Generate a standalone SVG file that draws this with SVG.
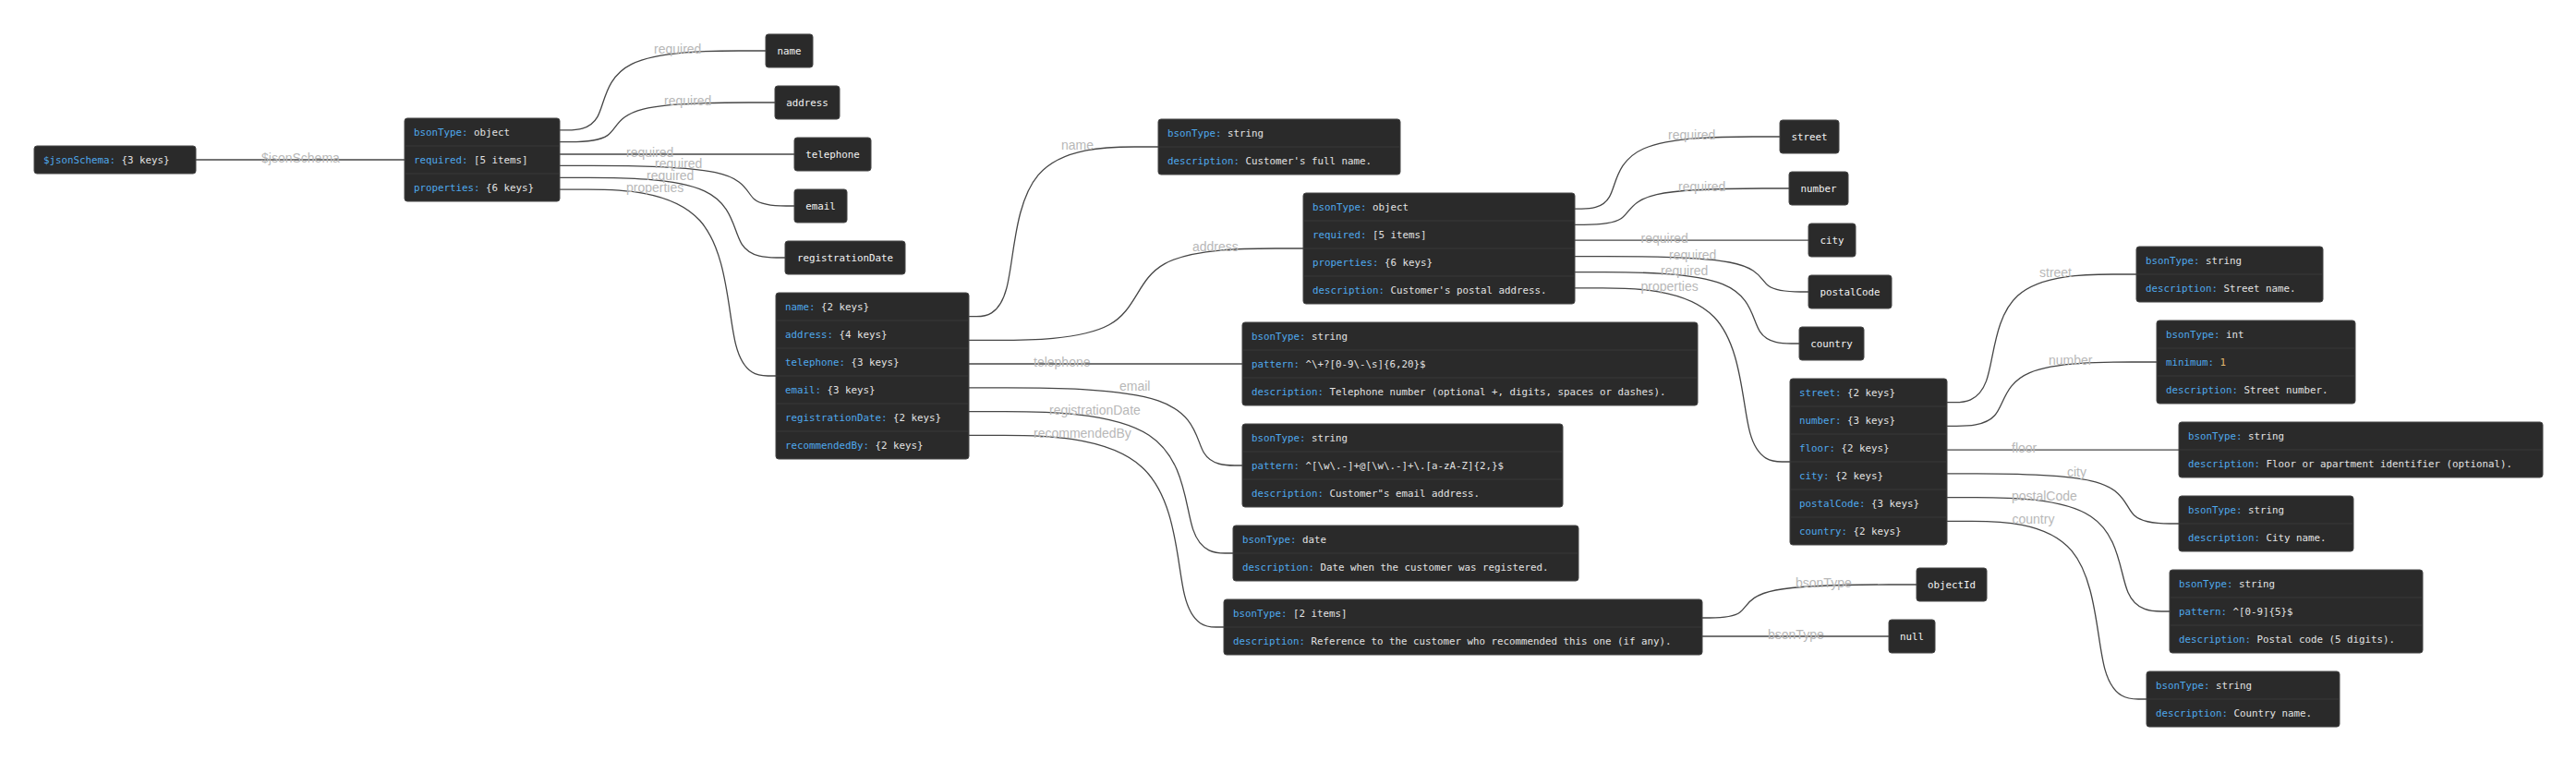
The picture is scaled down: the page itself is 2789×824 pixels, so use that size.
<svg xmlns="http://www.w3.org/2000/svg" width="2789" height="824" viewBox="0 0 2789 824">
<style>
.bg{fill:#ffffff}
.n rect{fill:#2a2a2a;stroke:#474747;stroke-width:1}
.n line{stroke:#383838;stroke-width:1}
.n text{font-family:"DejaVu Sans Mono","Liberation Mono",monospace;font-size:10.8px;fill:#e2e2e2}
.n text.c{text-anchor:middle;fill:#f2f2f2}
.k{fill:#4ea8ec}
.num{fill:#e3b96f}
.e path{fill:none;stroke:#464646;stroke-width:1.3}
.lb text{font-family:"Liberation Sans",Arial,sans-serif;font-size:14px;fill:#b8b8b8}
</style>
<rect class="bg" x="0" y="0" width="2789" height="824"/>

<g id="connectors" class="e">
<path d="M212,173 L438,173"/>
<path d="M606,140.9 L614.2,140.9 C622.3,140.9 638.7,140.9 646.8,126.6 C655,112.3 655,83.6 684,69.3 C713,55 771,55 800,55 L829,55"/>
<path d="M606,153.7 L616.3,153.7 C626.7,153.7 647.3,153.7 657.7,146.6 C668,139.5 668,125.2 696.5,118.1 C725,111 782,111 810.5,111 L839,111"/>
<path d="M606,167 L860,167"/>
<path d="M606,179.4 L639.7,179.4 C673.3,179.4 740.7,179.4 774.3,186.7 C808,193.9 808,208.5 816.7,215.7 C825.3,223 842.7,223 851.3,223 L860,223"/>
<path d="M606,192.3 L637.3,192.3 C668.7,192.3 731.3,192.3 762.7,206.8 C794,221.2 794,250.1 803.3,264.6 C812.7,279 831.3,279 840.7,279 L850,279"/>
<path d="M606,205.1 L636.3,205.1 C666.7,205.1 727.3,205.1 757.7,238.8 C788,272.4 788,339.7 796.7,373.4 C805.3,407 822.7,407 831.3,407 L840,407"/>
<path d="M1049,342.7 L1057.2,342.7 C1065.3,342.7 1081.7,342.7 1089.8,312.1 C1098,281.5 1098,220.2 1124,189.6 C1150,159 1202,159 1228,159 L1254,159"/>
<path d="M1049,368.4 L1079.3,368.4 C1109.7,368.4 1170.3,368.4 1200.7,351.8 C1231,335.3 1231,302.1 1261,285.6 C1291,269 1351,269 1381,269 L1411,269"/>
<path d="M1049,394 L1345,394"/>
<path d="M1049,419.9 L1090,419.9 C1131,419.9 1213,419.9 1254,433.9 C1295,447.9 1295,476 1303.3,490 C1311.7,504 1328.3,504 1336.7,504 L1345,504"/>
<path d="M1049,445.6 L1088,445.6 C1127,445.6 1205,445.6 1244,471.2 C1283,496.7 1283,547.9 1291.7,573.4 C1300.3,599 1317.7,599 1326.3,599 L1335,599"/>
<path d="M1049,471.3 L1086.5,471.3 C1124,471.3 1199,471.3 1236.5,505.9 C1274,540.5 1274,609.8 1282.5,644.4 C1291,679 1308,679 1316.5,679 L1325,679"/>
<path d="M1705,226.1 L1712.5,226.1 C1720,226.1 1735,226.1 1742.5,213.1 C1750,200.1 1750,174 1779.5,161 C1809,148 1868,148 1897.5,148 L1927,148"/>
<path d="M1705,243.3 L1715,243.3 C1725,243.3 1745,243.3 1755,236.8 C1765,230.2 1765,217.1 1793.7,210.6 C1822.3,204 1879.7,204 1908.3,204 L1937,204"/>
<path d="M1705,260.2 L1958,260.2"/>
<path d="M1705,277.6 L1738.5,277.6 C1772,277.6 1839,277.6 1872.5,284 C1906,290.4 1906,303.2 1914.7,309.6 C1923.3,316 1940.7,316 1949.3,316 L1958,316"/>
<path d="M1705,294.7 L1737,294.7 C1769,294.7 1833,294.7 1865,307.6 C1897,320.5 1897,346.2 1905.5,359.1 C1914,372 1931,372 1939.5,372 L1948,372"/>
<path d="M1705,311.9 L1735.2,311.9 C1765.3,311.9 1825.7,311.9 1855.8,343.3 C1886,374.6 1886,437.3 1894.7,468.7 C1903.3,500 1920.7,500 1929.3,500 L1938,500"/>
<path d="M2108,435.7 L2116.5,435.7 C2125,435.7 2142,435.7 2150.5,412.6 C2159,389.5 2159,343.2 2184.7,320.1 C2210.3,297 2261.7,297 2287.3,297 L2313,297"/>
<path d="M2108,461.4 L2118.3,461.4 C2128.7,461.4 2149.3,461.4 2159.7,449.8 C2170,438.3 2170,415.1 2197.5,403.6 C2225,392 2280,392 2307.5,392 L2335,392"/>
<path d="M2108,487.1 L2359,487.1"/>
<path d="M2108,512.9 L2140.2,512.9 C2172.3,512.9 2236.7,512.9 2268.8,521.9 C2301,530.9 2301,549 2310.7,558 C2320.3,567 2339.7,567 2349.3,567 L2359,567"/>
<path d="M2108,538.6 L2139.2,538.6 C2170.3,538.6 2232.7,538.6 2263.8,559.2 C2295,579.7 2295,620.9 2304,641.4 C2313,662 2331,662 2340,662 L2349,662"/>
<path d="M2108,564.3 L2135,564.3 C2162,564.3 2216,564.3 2243,596.4 C2270,628.5 2270,692.8 2279,724.9 C2288,757 2306,757 2315,757 L2324,757"/>
<path d="M1843,669 L1851.2,669 C1859.3,669 1875.7,669 1883.8,663 C1892,657 1892,645 1922.5,639 C1953,633 2014,633 2044.5,633 L2075,633"/>
<path d="M1843,689 L2045,689"/>
</g>

<g id="edge-labels" class="lb">
<text x="283" y="176">$jsonSchema</text>
<text x="708" y="57.5">required</text>
<text x="719" y="113.5">required</text>
<text x="678" y="170">required</text>
<text x="709" y="182">required</text>
<text x="700" y="195">required</text>
<text x="678" y="207.5">properties</text>
<text x="1149" y="162">name</text>
<text x="1291" y="272">address</text>
<text x="1119" y="397">telephone</text>
<text x="1212" y="422.5">email</text>
<text x="1136" y="448.5">registrationDate</text>
<text x="1119" y="474">recommendedBy</text>
<text x="1806" y="150.5">required</text>
<text x="1817" y="206.5">required</text>
<text x="1776.5" y="263">required</text>
<text x="1807" y="280.5">required</text>
<text x="1798" y="297.5">required</text>
<text x="1776.5" y="315">properties</text>
<text x="2208" y="300">street</text>
<text x="2218" y="394.5">number</text>
<text x="2178" y="490">floor</text>
<text x="2238" y="516">city</text>
<text x="2178" y="541.5">postalCode</text>
<text x="2178.5" y="567">country</text>
<text x="1944" y="636">bsonType</text>
<text x="1914" y="691.5">bsonType</text>
</g>

<g id="node-root" class="n">
<rect x="37" y="158" width="175" height="30" rx="3"/>
<text x="47" y="176.8"><tspan class="k">$jsonSchema:</tspan> {3 keys}</text>
</g>

<g id="node-schema" class="n">
<rect x="438" y="128" width="168" height="90" rx="3"/>
<line x1="438" y1="158" x2="606" y2="158"/>
<line x1="438" y1="188" x2="606" y2="188"/>
<text x="448" y="146.8"><tspan class="k">bsonType:</tspan> object</text>
<text x="448" y="176.8"><tspan class="k">required:</tspan> [5 items]</text>
<text x="448" y="206.8"><tspan class="k">properties:</tspan> {6 keys}</text>
</g>

<g id="node-req-name" class="n">
<rect x="829" y="37" width="51" height="36" rx="3"/>
<text class="c" x="854.5" y="58.8">name</text>
</g>
<g id="node-req-address" class="n">
<rect x="839" y="93" width="70" height="36" rx="3"/>
<text class="c" x="874" y="114.8">address</text>
</g>
<g id="node-req-telephone" class="n">
<rect x="860" y="149" width="83" height="36" rx="3"/>
<text class="c" x="901.5" y="170.8">telephone</text>
</g>
<g id="node-req-email" class="n">
<rect x="860" y="205" width="57" height="36" rx="3"/>
<text class="c" x="888.5" y="226.8">email</text>
</g>
<g id="node-req-registrationDate" class="n">
<rect x="850" y="261" width="130" height="36" rx="3"/>
<text class="c" x="915" y="282.8">registrationDate</text>
</g>

<g id="node-properties" class="n">
<rect x="840" y="317" width="209" height="180" rx="3"/>
<line x1="840" y1="347" x2="1049" y2="347"/>
<line x1="840" y1="377" x2="1049" y2="377"/>
<line x1="840" y1="407" x2="1049" y2="407"/>
<line x1="840" y1="437" x2="1049" y2="437"/>
<line x1="840" y1="467" x2="1049" y2="467"/>
<text x="850" y="335.8"><tspan class="k">name:</tspan> {2 keys}</text>
<text x="850" y="365.8"><tspan class="k">address:</tspan> {4 keys}</text>
<text x="850" y="395.8"><tspan class="k">telephone:</tspan> {3 keys}</text>
<text x="850" y="425.8"><tspan class="k">email:</tspan> {3 keys}</text>
<text x="850" y="455.8"><tspan class="k">registrationDate:</tspan> {2 keys}</text>
<text x="850" y="485.8"><tspan class="k">recommendedBy:</tspan> {2 keys}</text>
</g>

<g id="node-name" class="n">
<rect x="1254" y="129" width="262" height="60" rx="3"/>
<line x1="1254" y1="159" x2="1516" y2="159"/>
<text x="1264" y="147.8"><tspan class="k">bsonType:</tspan> string</text>
<text x="1264" y="177.8"><tspan class="k">description:</tspan> Customer's full name.</text>
</g>

<g id="node-address" class="n">
<rect x="1411" y="209" width="294" height="120" rx="3"/>
<line x1="1411" y1="239" x2="1705" y2="239"/>
<line x1="1411" y1="269" x2="1705" y2="269"/>
<line x1="1411" y1="299" x2="1705" y2="299"/>
<text x="1421" y="227.8"><tspan class="k">bsonType:</tspan> object</text>
<text x="1421" y="257.8"><tspan class="k">required:</tspan> [5 items]</text>
<text x="1421" y="287.8"><tspan class="k">properties:</tspan> {6 keys}</text>
<text x="1421" y="317.8"><tspan class="k">description:</tspan> Customer's postal address.</text>
</g>

<g id="node-telephone" class="n">
<rect x="1345" y="349" width="493" height="90" rx="3"/>
<line x1="1345" y1="379" x2="1838" y2="379"/>
<line x1="1345" y1="409" x2="1838" y2="409"/>
<text x="1355" y="367.8"><tspan class="k">bsonType:</tspan> string</text>
<text x="1355" y="397.8"><tspan class="k">pattern:</tspan> ^\+?[0-9\-\s]{6,20}$</text>
<text x="1355" y="427.8"><tspan class="k">description:</tspan> Telephone number (optional +, digits, spaces or dashes).</text>
</g>

<g id="node-email" class="n">
<rect x="1345" y="459" width="347" height="90" rx="3"/>
<line x1="1345" y1="489" x2="1692" y2="489"/>
<line x1="1345" y1="519" x2="1692" y2="519"/>
<text x="1355" y="477.8"><tspan class="k">bsonType:</tspan> string</text>
<text x="1355" y="507.8"><tspan class="k">pattern:</tspan> ^[\w\.-]+@[\w\.-]+\.[a-zA-Z]{2,}$</text>
<text x="1355" y="537.8"><tspan class="k">description:</tspan> Customer&quot;s email address.</text>
</g>

<g id="node-registrationDate" class="n">
<rect x="1335" y="569" width="374" height="60" rx="3"/>
<line x1="1335" y1="599" x2="1709" y2="599"/>
<text x="1345" y="587.8"><tspan class="k">bsonType:</tspan> date</text>
<text x="1345" y="617.8"><tspan class="k">description:</tspan> Date when the customer was registered.</text>
</g>

<g id="node-recommendedBy" class="n">
<rect x="1325" y="649" width="518" height="60" rx="3"/>
<line x1="1325" y1="679" x2="1843" y2="679"/>
<text x="1335" y="667.8"><tspan class="k">bsonType:</tspan> [2 items]</text>
<text x="1335" y="697.8"><tspan class="k">description:</tspan> Reference to the customer who recommended this one (if any).</text>
</g>

<g id="node-req-street" class="n">
<rect x="1927" y="130" width="64" height="36" rx="3"/>
<text class="c" x="1959" y="151.8">street</text>
</g>
<g id="node-req-number" class="n">
<rect x="1937" y="186" width="64" height="36" rx="3"/>
<text class="c" x="1969" y="207.8">number</text>
</g>
<g id="node-req-city" class="n">
<rect x="1958" y="242" width="51" height="36" rx="3"/>
<text class="c" x="1983.5" y="263.8">city</text>
</g>
<g id="node-req-postalCode" class="n">
<rect x="1958" y="298" width="90" height="36" rx="3"/>
<text class="c" x="2003" y="319.8">postalCode</text>
</g>
<g id="node-req-country" class="n">
<rect x="1948" y="354" width="70" height="36" rx="3"/>
<text class="c" x="1983" y="375.8">country</text>
</g>

<g id="node-address-properties" class="n">
<rect x="1938" y="410" width="170" height="180" rx="3"/>
<line x1="1938" y1="440" x2="2108" y2="440"/>
<line x1="1938" y1="470" x2="2108" y2="470"/>
<line x1="1938" y1="500" x2="2108" y2="500"/>
<line x1="1938" y1="530" x2="2108" y2="530"/>
<line x1="1938" y1="560" x2="2108" y2="560"/>
<text x="1948" y="428.8"><tspan class="k">street:</tspan> {2 keys}</text>
<text x="1948" y="458.8"><tspan class="k">number:</tspan> {3 keys}</text>
<text x="1948" y="488.8"><tspan class="k">floor:</tspan> {2 keys}</text>
<text x="1948" y="518.8"><tspan class="k">city:</tspan> {2 keys}</text>
<text x="1948" y="548.8"><tspan class="k">postalCode:</tspan> {3 keys}</text>
<text x="1948" y="578.8"><tspan class="k">country:</tspan> {2 keys}</text>
</g>

<g id="node-street" class="n">
<rect x="2313" y="267" width="202" height="60" rx="3"/>
<line x1="2313" y1="297" x2="2515" y2="297"/>
<text x="2323" y="285.8"><tspan class="k">bsonType:</tspan> string</text>
<text x="2323" y="315.8"><tspan class="k">description:</tspan> Street name.</text>
</g>

<g id="node-number" class="n">
<rect x="2335" y="347" width="215" height="90" rx="3"/>
<line x1="2335" y1="377" x2="2550" y2="377"/>
<line x1="2335" y1="407" x2="2550" y2="407"/>
<text x="2345" y="365.8"><tspan class="k">bsonType:</tspan> int</text>
<text x="2345" y="395.8"><tspan class="k">minimum:</tspan> <tspan class="num">1</tspan></text>
<text x="2345" y="425.8"><tspan class="k">description:</tspan> Street number.</text>
</g>

<g id="node-floor" class="n">
<rect x="2359" y="457" width="394" height="60" rx="3"/>
<line x1="2359" y1="487" x2="2753" y2="487"/>
<text x="2369" y="475.8"><tspan class="k">bsonType:</tspan> string</text>
<text x="2369" y="505.8"><tspan class="k">description:</tspan> Floor or apartment identifier (optional).</text>
</g>

<g id="node-city" class="n">
<rect x="2359" y="537" width="189" height="60" rx="3"/>
<line x1="2359" y1="567" x2="2548" y2="567"/>
<text x="2369" y="555.8"><tspan class="k">bsonType:</tspan> string</text>
<text x="2369" y="585.8"><tspan class="k">description:</tspan> City name.</text>
</g>

<g id="node-postalCode" class="n">
<rect x="2349" y="617" width="274" height="90" rx="3"/>
<line x1="2349" y1="647" x2="2623" y2="647"/>
<line x1="2349" y1="677" x2="2623" y2="677"/>
<text x="2359" y="635.8"><tspan class="k">bsonType:</tspan> string</text>
<text x="2359" y="665.8"><tspan class="k">pattern:</tspan> ^[0-9]{5}$</text>
<text x="2359" y="695.8"><tspan class="k">description:</tspan> Postal code (5 digits).</text>
</g>

<g id="node-country" class="n">
<rect x="2324" y="727" width="209" height="60" rx="3"/>
<line x1="2324" y1="757" x2="2533" y2="757"/>
<text x="2334" y="745.8"><tspan class="k">bsonType:</tspan> string</text>
<text x="2334" y="775.8"><tspan class="k">description:</tspan> Country name.</text>
</g>

<g id="node-type-objectId" class="n">
<rect x="2075" y="615" width="76" height="36" rx="3"/>
<text class="c" x="2113" y="636.8">objectId</text>
</g>
<g id="node-type-null" class="n">
<rect x="2045" y="671" width="50" height="36" rx="3"/>
<text class="c" x="2070" y="692.8">null</text>
</g>
</svg>
